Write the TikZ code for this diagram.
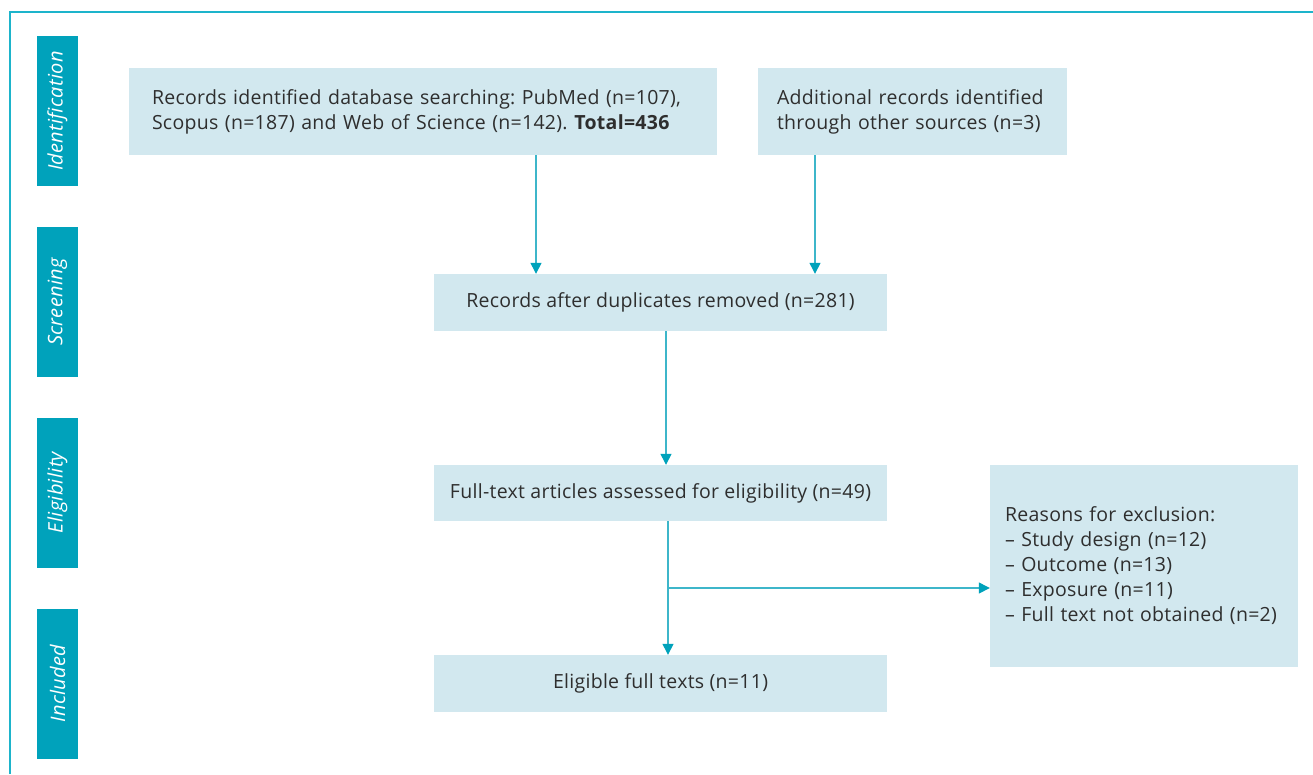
\documentclass[tikz,border=0pt]{standalone}
\usepackage{fontspec}
\setmainfont[LetterSpace=1.5]{Open Sans}
\usetikzlibrary{arrows.meta}
\definecolor{teal}{HTML}{00A2BB}
\definecolor{frame}{HTML}{1DB4CB}
\definecolor{linec}{HTML}{3DB6CA}
\definecolor{boxfill}{HTML}{D2E8EF}
\definecolor{txt}{HTML}{2E2E2E}
\tikzset{
  tab/.style={fill=teal, minimum width=41pt, minimum height=150pt, inner sep=0pt},
  tabtxt/.style={text=white, rotate=90, font=\fontsize{20}{23}\selectfont\itshape},
  box/.style={fill=boxfill, text=txt, inner sep=0pt, font=\fontsize{19.5}{25}\selectfont},
  arr/.style={draw=linec, line width=1.3pt, -{Triangle[length=11pt,width=11pt,fill=teal,color=teal]}},
  ln/.style={draw=linec, line width=1.3pt}
}
\begin{document}
\frenchspacing
\begin{tikzpicture}[x=1pt,y=-1pt]
\useasboundingbox (0,0) rectangle (1313,774);
\draw[frame, line width=1.3pt] (10,774) -- (10,12) -- (1313,12);
% side tabs
\node[tab] (t1) at (57.5,111) {};
\node[tabtxt] at (t1) {Identification};
\node[tab] (t2) at (57.5,302) {};
\node[tabtxt] at (t2) {Screening};
\node[tab] (t3) at (57.5,492.5) {};
\node[tabtxt] at (t3) {Eligibility};
\node[tab] (t4) at (57.5,683.5) {};
\node[tabtxt] at (t4) {Included};
% boxes
\node[box, minimum width=588pt, minimum height=87pt, text width=542pt, align=left] (b1) at (423,111.5)
  {Records identified database searching: PubMed (n=107),\\Scopus (n=187) and Web of Science (n=142). \textbf{Total=436}};
\node[box, minimum width=309pt, minimum height=87pt, text width=271pt, align=left] (b2) at (912.5,111.5)
  {Additional records identified\\through other sources (n=3)};
\node[box, minimum width=453pt, minimum height=57pt] (b3) at (660.5,302.5)
  {Records after duplicates removed (n=281)};
\node[box, minimum width=453pt, minimum height=56pt] (b4) at (660.5,493)
  {Full-text articles assessed for eligibility (n=49)};
\node[box, minimum width=453pt, minimum height=57pt] (b5) at (660.5,683.5)
  {Eligible full texts (n=11)};
\node[box, minimum width=308pt, minimum height=202pt, text width=278pt, align=left] (b6) at (1144,566)
  {Reasons for exclusion:\\– Study design (n=12)\\– Outcome (n=13)\\– Exposure (n=11)\\– Full text not obtained (n=2)};
% connectors
\draw[arr] (b1.south -| 536,0) -- (b3.north -| 536,0);
\draw[arr] (b2.south -| 815,0) -- (b3.north -| 815,0);
\draw[arr] (b3.south -| 666,0) -- (b4.north -| 666,0);
\draw[arr] (b4.south -| 668,0) -- (b5.north -| 668,0);
\coordinate (br) at (668,588);
\draw[arr] (br) -- (br -| b6.west);
\end{tikzpicture}
\end{document}
